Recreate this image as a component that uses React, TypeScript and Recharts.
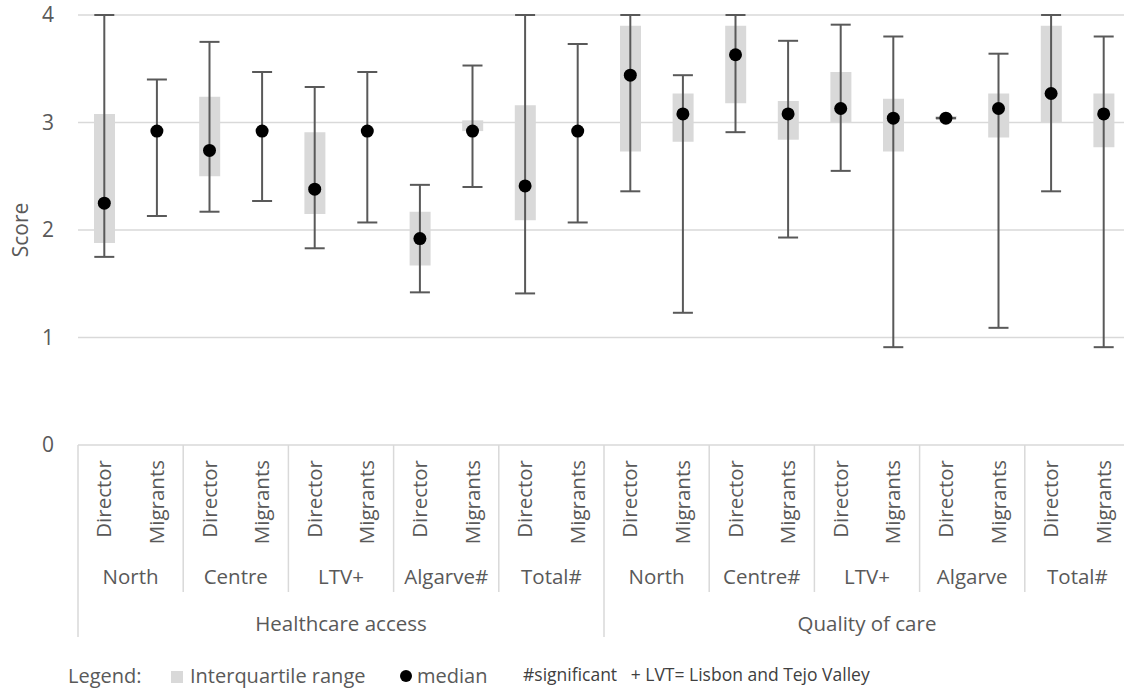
import React from 'react';
import {
  ComposedChart,
  Bar,
  Line,
  ErrorBar,
  XAxis,
  YAxis,
  CartesianGrid,
  Label,
} from 'recharts';

const sections = ['Healthcare access', 'Quality of care'];
const regions = ['North', 'Centre', 'LTV+', 'Algarve#', 'Total#', 'North', 'Centre#', 'LTV+', 'Algarve', 'Total#'];
const respondents = ['Director', 'Migrants'];

const medians = [2.25, 2.92, 2.74, 2.92, 2.38, 2.92, 1.92, 2.92, 2.41, 2.92, 3.44, 3.08, 3.63, 3.08, 3.13, 3.04, 3.04, 3.13, 3.27, 3.08];
const q1 = [1.88, 2.92, 2.5, 2.92, 2.15, 2.92, 1.67, 2.92, 2.09, 2.92, 2.73, 2.82, 3.18, 2.84, 3.0, 2.73, 3.03, 2.86, 3.0, 2.77];
const q3 = [3.08, 2.92, 3.24, 2.92, 2.91, 2.92, 2.17, 3.02, 3.16, 2.92, 3.9, 3.27, 3.9, 3.2, 3.47, 3.22, 3.06, 3.27, 3.9, 3.27];
const mins = [1.75, 2.13, 2.17, 2.27, 1.83, 2.07, 1.42, 2.4, 1.41, 2.07, 2.36, 1.23, 2.91, 1.93, 2.55, 0.91, 3.04, 1.09, 2.36, 0.91];
const maxs = [4.0, 3.4, 3.75, 3.47, 3.33, 3.47, 2.42, 3.53, 4.0, 3.73, 4.0, 3.44, 4.0, 3.76, 3.91, 3.8, 3.04, 3.64, 4.0, 3.8];

const yTicks = [0, 1, 2, 3, 4];

const data = medians.map((m, i) => ({
  key: `c${i}`,
  respondent: respondents[i % 2],
  region: regions[Math.floor(i / 2)],
  section: sections[Math.floor(i / 10)],
  median: m,
  iqr: [q1[i], q3[i]],
  err: [m - mins[i], maxs[i] - m],
}));

const W = 1130;
const H = 691;
const TOP = 15;
const LEFT = 78;
const X_AXIS_H = 246;
const PLOT_BOTTOM = H - X_AXIS_H;
const BAND = (W - LEFT) / data.length;
const TEXT = '#595959';
const GRID = '#d9d9d9';
const FONT = '"Open Sans", sans-serif';

function CategoryTick(props: any) {
  const { x, index } = props;
  const d = data[index];
  const items: React.ReactNode[] = [];
  const y0 = PLOT_BOTTOM;
  items.push(
    <text
      key="r"
      x={x}
      y={y0 + 15}
      dy="0.35em"
      transform={`rotate(-90, ${x}, ${y0 + 15})`}
      textAnchor="end"
      fontSize={20.5}
      fill={TEXT}
      fontFamily={FONT}
    >
      {d.respondent}
    </text>
  );
  if (index % 2 === 0) {
    const left = x - BAND / 2;
    const long = index % 10 === 0;
    items.push(<line key="s" x1={left} x2={left} y1={y0} y2={long ? y0 + 192 : y0 + 147} stroke={GRID} strokeWidth={1.5} />);
    items.push(
      <text key="g" x={x + BAND / 2} y={y0 + 139} textAnchor="middle" fontSize={20.5} fill={TEXT} fontFamily={FONT}>
        {d.region}
      </text>
    );
    if (long) {
      items.push(
        <text key="sec" x={left + BAND * 5} y={y0 + 186} textAnchor="middle" fontSize={20.5} fill={TEXT} fontFamily={FONT}>
          {d.section}
        </text>
      );
    }
  }
  if (index === data.length - 1) {
    const right = x + BAND / 2;
    items.push(<line key="e" x1={right} x2={right} y1={y0} y2={y0 + 192} stroke={GRID} strokeWidth={1.5} />);
  }
  return <g>{items}</g>;
}

function LegendRow() {
  return (
    <svg width={1124} height={40} style={{ position: 'absolute', left: 0, top: 651 }}>
      <text x={68} y={32} fontSize={20} fill={TEXT} fontFamily={FONT}>Legend:</text>
      <rect x={171} y={20} width={12} height={12} fill={GRID} />
      <text x={190} y={32} fontSize={20} fill={TEXT} fontFamily={FONT}>Interquartile range</text>
      <circle cx={406} cy={25} r={6} fill="#000" />
      <text x={417} y={32} fontSize={20} fill={TEXT} fontFamily={FONT}>median</text>
      <text x={523} y={30} fontSize={17.5} fill="#404040" fontFamily={FONT} style={{ whiteSpace: 'pre' }}>
        {'#significant   + LVT= Lisbon and Tejo Valley'}
      </text>
    </svg>
  );
}

export default function App() {
  return (
    <div style={{ position: 'absolute', left: 0, top: 0, width: 1124, height: 691, overflow: 'hidden', background: '#fff' }}>
      <ComposedChart width={W} height={H} data={data} margin={{ top: TOP, right: 0, left: 0, bottom: 0 }}>
        <CartesianGrid vertical={false} stroke={GRID} strokeWidth={1.5} />
        <XAxis
          dataKey="key"
          interval={0}
          height={X_AXIS_H}
          axisLine={false}
          tickLine={false}
          tick={<CategoryTick />}
        />
        <YAxis
          width={LEFT}
          domain={[0, 4]}
          ticks={yTicks}
          axisLine={false}
          tickLine={false}
          tickSize={0}
          tickMargin={24}
          tick={{ fontSize: 21, fill: TEXT, fontFamily: FONT }}
        >
          <Label
            content={({ viewBox }: any) => {
              const cy = viewBox.y + viewBox.height / 2;
              return (
                <text
                  x={21}
                  y={cy}
                  dy="0.35em"
                  transform={`rotate(-90, 21, ${cy})`}
                  textAnchor="middle"
                  fontSize={21}
                  fill={TEXT}
                  fontFamily={FONT}
                >
                  Score
                </text>
              );
            }}
          />
        </YAxis>
        <Bar dataKey="iqr" barSize={21} fill={GRID} isAnimationActive={false} />
        <Line
          dataKey="median"
          stroke="none"
          dot={{ r: 6.5, fill: '#000', stroke: 'none' }}
          activeDot={false}
          isAnimationActive={false}
        >
          <ErrorBar dataKey="err" width={10} stroke="#595959" strokeWidth={2} isAnimationActive={false} />
        </Line>
      </ComposedChart>
      <LegendRow />
    </div>
  );
}
